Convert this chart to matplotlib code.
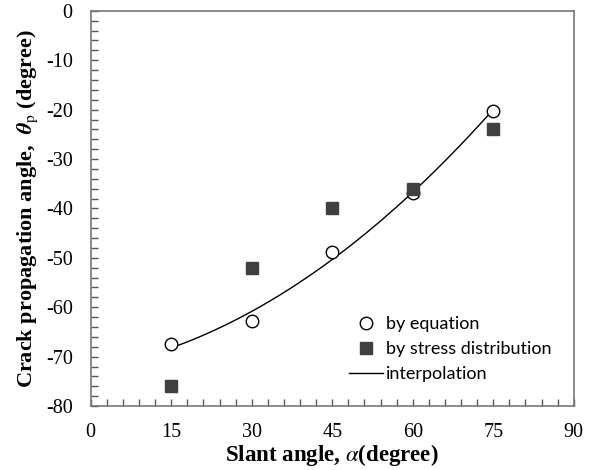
import numpy as np
import matplotlib
matplotlib.use('Agg')
import matplotlib.pyplot as plt
from matplotlib.ticker import MultipleLocator

# data
slant = [15, 30, 45, 60, 75]
theta_eq = [-67.5, -62.8, -48.8, -36.8, -20.2]
theta_stress = [-76, -52, -40, -36, -24]

plt.rcParams['font.family'] = 'Liberation Serif'
plt.rcParams['mathtext.fontset'] = 'stix'
plt.rcParams['axes.unicode_minus'] = False

fig = plt.figure(figsize=(5.97, 4.70), dpi=100)
ax = fig.add_axes([0.152, 0.136, 0.809, 0.841])

# quadratic interpolation through the equation points
fit_fn = np.poly1d(np.polyfit(slant, theta_eq, 2))
xs = np.linspace(min(slant), max(slant), 200)

ax.plot(slant, theta_eq, 'o', mfc='white', mec='black', mew=1.0, ms=9,
        label='by equation', zorder=3)
ax.plot(slant, theta_stress, 's', color='#404040', ms=9,
        label='by stress distribution', zorder=3)
ax.plot(xs, fit_fn(xs), '-', color='black', lw=1.0, label='interpolation')

ax.set_xlim(0, 90)
ax.set_ylim(-80, 0)
ax.xaxis.set_major_locator(MultipleLocator(15))
ax.xaxis.set_minor_locator(MultipleLocator(3))
ax.yaxis.set_major_locator(MultipleLocator(10))
ax.yaxis.set_minor_locator(MultipleLocator(2))
ax.tick_params(which='both', direction='in', length=5, width=1, color='#555555',
               labelsize=14.5)
ax.tick_params(axis='x', pad=12)
ax.tick_params(axis='y', pad=13)
for s in ax.spines.values():
    s.set_color('#777777')
    s.set_linewidth(1.2)

ax.set_xlabel(r'Slant angle, $\alpha$(degree)', fontsize=16.5, fontweight='bold', labelpad=0)
ax.set_ylabel(r'Crack propagation angle,  $\mathbfit{\theta}_\mathrm{p}$ (degree)',
              fontsize=16, fontweight='bold', labelpad=4)

leg = ax.legend(loc='upper left', bbox_to_anchor=(0.534, 0.228), frameon=False,
                prop={'family': 'Lato', 'size': 13}, handlelength=1.9,
                handletextpad=0.15, labelspacing=0.5, borderpad=0, borderaxespad=0)

plt.savefig('out.png', dpi=100)
